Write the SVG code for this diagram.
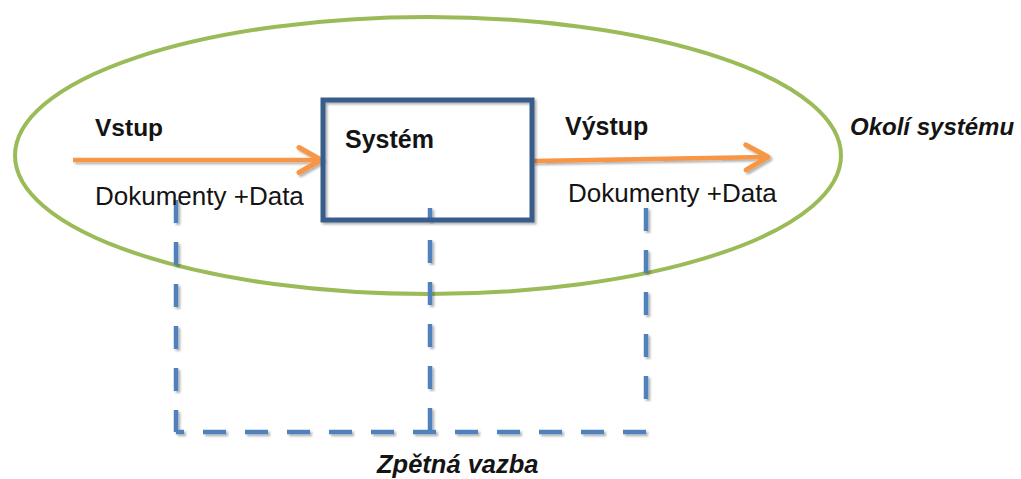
<svg xmlns="http://www.w3.org/2000/svg" width="1021" height="479" viewBox="0 0 1021 479">
  <style>
    .lbl { font-family: "Liberation Sans", Arial, sans-serif; fill: #141414; }
    .b { font-weight: bold; }
    .bi { font-weight: bold; font-style: italic; }
    .flow { stroke: #f79646; stroke-width: 4.5; fill: none; marker-end: url(#openArrow); }
    .fb { stroke: #4f81bd; stroke-width: 4.5; fill: none; stroke-dasharray: 23 19; }
  </style>
  <defs>
    <filter id="sh" x="-10%" y="-10%" width="130%" height="130%">
      <feDropShadow dx="2" dy="2" stdDeviation="1.2" flood-color="#000" flood-opacity="0.3"/>
    </filter>
    <marker id="openArrow" markerUnits="userSpaceOnUse" markerWidth="32" markerHeight="32" viewBox="0 0 32 32" refX="27" refY="16" orient="auto">
      <path d="M5,3.5 L27,16 L5,28.5" fill="none" stroke="#f79646" stroke-width="5" stroke-linecap="round" stroke-linejoin="round"/>
    </marker>
  </defs>
  <rect width="1021" height="479" fill="#ffffff"/>

  <g id="okoli">
    <ellipse cx="428" cy="155.5" rx="413" ry="138.5" fill="none" stroke="#9bbb59" stroke-width="4"/>
    <text class="lbl bi" x="850" y="135" font-size="24">Okolí systému</text>
  </g>

  <g id="connectors" filter="url(#sh)">
    <line class="flow" x1="73" y1="160" x2="321" y2="160"/>
    <line class="flow" x1="533" y1="161" x2="768" y2="157"/>
    <line class="fb" x1="176" y1="200" x2="176" y2="432"/>
    <line class="fb" x1="176" y1="432" x2="647" y2="432" stroke-dashoffset="15"/>
    <line class="fb" x1="430" y1="208" x2="430" y2="432" stroke-dashoffset="10"/>
    <line class="fb" x1="646" y1="208" x2="646" y2="402"/>
  </g>

  <g id="system" filter="url(#sh)">
    <rect x="323" y="100" width="209" height="120" fill="none" stroke="#385d8a" stroke-width="5"/>
  </g>
  <g id="system-label">
    <text class="lbl b" x="345" y="148" font-size="25">Systém</text>
  </g>

  <g id="vstup">
    <text class="lbl b" x="95" y="136" font-size="24.5">Vstup</text>
    <text class="lbl" x="95" y="205" font-size="26">Dokumenty +Data</text>
  </g>

  <g id="vystup">
    <text class="lbl b" x="565" y="135" font-size="25">Výstup</text>
    <text class="lbl" x="568" y="202" font-size="26">Dokumenty +Data</text>
  </g>

  <g id="zpetna-vazba">
    <text class="lbl bi" x="377" y="473" font-size="25.5">Zpětná vazba</text>
  </g>
</svg>
